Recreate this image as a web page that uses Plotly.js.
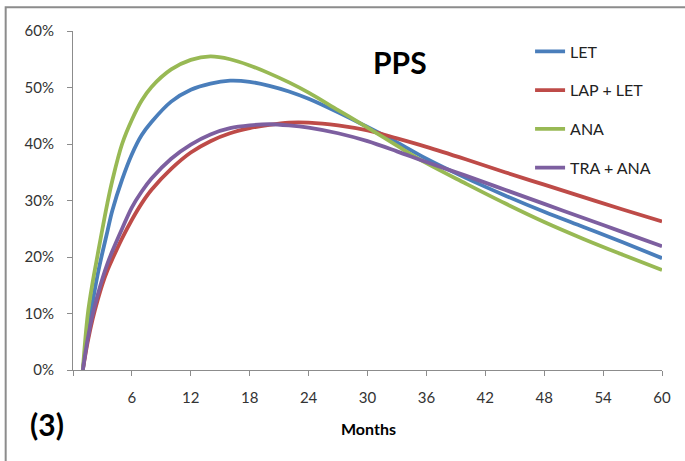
<!DOCTYPE html>
<html>
<head>
<meta charset="utf-8">
<script src="https://cdn.plot.ly/plotly-3.0.1.min.js"></script>
<style>html,body{margin:0;padding:0;background:#fff;}#chart{width:685px;height:461px;}</style>
</head>
<body>
<div id="chart"></div>
<script>
// Months at which values were read
const months = [1, 1.5, 2, 2.5, 3, 3.5, 4, 5, 6, 7, 8, 10, 12, 14, 16, 18, 20, 22, 24, 27, 30, 33, 36, 40, 44, 48, 52, 56, 60];
// Series values (percent)
const LET     = [0, 6.5, 12, 16.8, 20.8, 24.5, 28.2, 33.7, 38.2, 41.6, 43.9, 47.5, 49.6, 50.7, 51.2, 51.0, 50.3, 49.3, 48.0, 45.6, 43.0, 40.3, 37.4, 34.0, 30.9, 28.0, 25.3, 22.6, 19.8];
const LAP_LET = [0, 5, 9, 12.3, 15.2, 17.6, 19.6, 23.3, 26.6, 29.5, 31.9, 35.6, 38.5, 40.5, 41.9, 42.8, 43.4, 43.8, 43.8, 43.3, 42.4, 41.0, 39.5, 37.3, 35.0, 32.8, 30.6, 28.4, 26.3];
const ANA     = [0, 9.8, 15.5, 20.3, 25, 29.5, 33.5, 40, 44.3, 47.7, 50.1, 53.2, 54.9, 55.5, 55.0, 53.9, 52.5, 50.9, 49.1, 46.0, 42.9, 39.7, 36.6, 33.0, 29.5, 26.2, 23.2, 20.4, 17.7];
const TRA_ANA = [0, 5.5, 9.8, 13.2, 16.2, 18.8, 21.0, 25, 28.8, 31.6, 33.9, 37.4, 39.9, 41.7, 42.8, 43.3, 43.5, 43.3, 42.9, 41.9, 40.5, 38.7, 36.8, 34.4, 31.9, 29.4, 26.9, 24.4, 21.9];
const seriesNames = ["LET", "LAP + LET", "ANA", "TRA + ANA"];
const seriesColors = ["#4A7EBB", "#BE4B48", "#98B954", "#7D5FA0"];
const xTickVals = [0, 6, 12, 18, 24, 30, 36, 42, 48, 54, 60];
const xTickText = ["", "6", "12", "18", "24", "30", "36", "42", "48", "54", "60"];

const allSeries = [LET, LAP_LET, ANA, TRA_ANA];
const traces = allSeries.map((ys, i) => ({
  x: months, y: ys, type: "scatter", mode: "lines",
  name: seriesNames[i], legendgroup: "g" + i,
  line: {color: seriesColors[i], width: 3.8, shape: "spline", smoothing: 1.0}
}));

const FONT = "Lato, 'Open Sans', sans-serif";
const layout = {
  width: 685, height: 461,
  margin: {l: 73, r: 23, t: 31, b: 91},
  paper_bgcolor: "#fff", plot_bgcolor: "#fff",
  font: {family: FONT, color: "#333", size: 15},
  showlegend: true,
  legend: {
    x: 0.776, y: 0.99, xanchor: "left", yanchor: "top",
    traceorder: "grouped", tracegroupgap: 15,
    font: {family: FONT, size: 16, color: "#222"},
    bgcolor: "rgba(0,0,0,0)"
  },
  xaxis: {
    range: [0, 60], tickmode: "array", tickvals: xTickVals, ticktext: xTickText,
    showgrid: false, zeroline: false, showline: true, linecolor: "#8c8c8c", linewidth: 1,
    ticks: "outside", ticklen: 5, tickcolor: "#8c8c8c", ticklabelstandoff: 9,
    tickfont: {family: FONT, size: 15, color: "#333"}
  },
  yaxis: {
    range: [0, 60], dtick: 10, ticksuffix: "%",
    showgrid: false, zeroline: false, showline: true, linecolor: "#8c8c8c", linewidth: 1,
    ticks: "outside", ticklen: 5, tickcolor: "#8c8c8c", ticklabelstandoff: 10,
    tickfont: {family: FONT, size: 15, color: "#333"}
  },
  annotations: [
    {text: "<b>PPS</b>", x: 0.5556, y: 0.9078, xref: "paper", yref: "paper", xanchor: "center", yanchor: "middle", showarrow: false, font: {family: FONT, size: 30, color: "#000"}},
    {text: "<b>(3)</b>", x: -0.0438, y: -0.159, xref: "paper", yref: "paper", xanchor: "center", yanchor: "middle", showarrow: false, font: {family: FONT, size: 30, color: "#000"}},
    {text: "<b>Months</b>", x: 0.5012, y: -0.1739, xref: "paper", yref: "paper", xanchor: "center", yanchor: "middle", showarrow: false, font: {family: FONT, size: 16, color: "#000"}}
  ],
  shapes: [
    {type: "rect", xref: "paper", yref: "paper", x0: -0.1143, x1: 1.06, y0: -0.30, y1: 1.0699, line: {color: "#8c8c8c", width: 2}, fillcolor: "rgba(0,0,0,0)", layer: "below"}
  ]
};

Plotly.newPlot("chart", traces, layout, {displayModeBar: false, staticPlot: true});
</script>
</body>
</html>
